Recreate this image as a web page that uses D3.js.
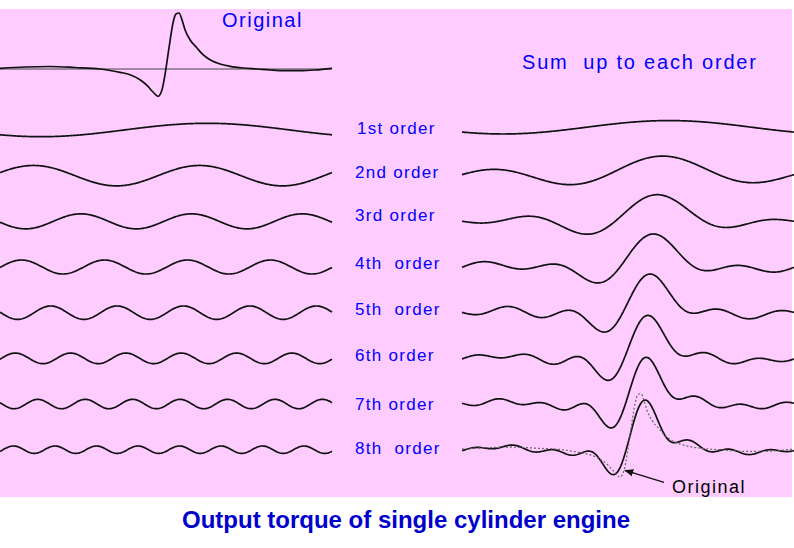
<!DOCTYPE html>
<html>
<head>
<meta charset="utf-8">
<script src="https://cdn.jsdelivr.net/npm/d3@7"></script>
<style>
  body { margin: 0; background: #fff; }
  text { font-family: Arial, "Liberation Sans", sans-serif; white-space: pre; }
</style>
</head>
<body>
<script>
// harmonic orders, amplitude (torque units) and angle of first peak (deg of cycle)
var orders = [1, 2, 3, 4, 5, 6, 7, 8];
var orderlabels = ["1st order", "2nd order", "3rd order", "4th  order", "5th  order", "6th order", "7th order", "8th  order"];
var amplitudes = [6.7, 10.2, 7.5, 7.0, 6.7, 5.3, 4.7, 3.7];
var peakangles = [224.5, 36.3, 87.7, 23.3, 55.0, 16.6, 41.0, 14.6];

// original torque curve
var origangle = [0, 27.1, 54.2, 81.3, 108.4, 119.3, 130.1, 141.0, 151.8, 159.4, 165.9, 171.3, 175.7, 178.9,
  181.1, 184.3, 187.6, 190.8, 194.1, 197.3, 200.6, 206.0, 213.6, 220.1, 227.7, 238.6, 249.4, 263.5,
  278.7, 292.8, 309.0, 325.3, 341.6, 360];
var origtorque = [0.7, 2, 2.5, 1.5, 0, -1.5, -3.3, -5.7, -10.7, -16.3, -23, -27.3, -20.7, -5.7,
  7.7, 27.7, 46, 55, 56, 49.3, 39.3, 29.3, 21, 14.3, 9.3, 5, 2.7, 1, 0, -1, -1.7, -1.7, -1, 0.7];

var width = 794, height = 548;
var svg = d3.select("body").append("svg").attr("width", width).attr("height", height);

svg.append("rect").attr("x", 0).attr("y", 9).attr("width", 792).attr("height", 488).attr("fill", "#ffccff");

var xleft = d3.scaleLinear().domain([0, 360]).range([0, 332]);
var xright = d3.scaleLinear().domain([0, 360]).range([462, 794]);
var yunit = d3.scaleLinear().domain([0, 1]).range([0, -1]);
var rows = d3.scalePoint().domain(orders).range([130, 449.7]);
var labelnudge = [4, 2.3, -0.4, 1.9, 2.1, 2.4, 5.7, 4];
var origbase = 69;

var angles = d3.range(0, 360.5, 1);

// mean (0th order) of the original, the sums start from it
var area = 0;
for (var j = 1; j < origangle.length; j++)
{
  area += (origtorque[j] + origtorque[j - 1]) / 2 * (origangle[j] - origangle[j - 1]);
}
var meantorque = area / 360;

function harmonic(i, a)
{
  return amplitudes[i] * Math.cos(orders[i] * (a - peakangles[i]) * Math.PI / 180);
}

function partialsum(i, a)
{
  var s = meantorque;
  for (var k = 0; k <= i; k++) { s += harmonic(k, a); }
  return s;
}

function makeline(xscale, base)
{
  return d3.line()
    .x(function(d) { return xscale(d[0]); })
    .y(function(d) { return base + yunit(d[1]); });
}

// top: original curve with zero line
svg.append("line")
   .attr("x1", xleft(0)).attr("x2", xleft(360))
   .attr("y1", origbase).attr("y2", origbase)
   .attr("stroke", "#444").attr("stroke-width", 1);

var origpts = origangle.map(function(a, i) { return [a, origtorque[i]]; });
svg.append("path")
   .attr("d", makeline(xleft, origbase).curve(d3.curveMonotoneX)(origpts))
   .attr("fill", "none").attr("stroke", "#111").attr("stroke-width", 1.7);

svg.append("text").attr("x", 222).attr("y", 27).attr("fill", "#0000ff")
   .attr("font-size", 20).attr("letter-spacing", 1.5).text("Original");
svg.append("text").attr("x", 522).attr("y", 69).attr("fill", "#0000ff")
   .attr("font-size", 20).attr("letter-spacing", 1.8).text("Sum  up to each order");

// each order: harmonic on the left, sum up to that order on the right
orders.forEach(function(n, i)
{
  var base = rows(n);
  svg.append("path")
     .attr("d", makeline(xleft, base)(angles.map(function(a) { return [a, harmonic(i, a)]; })))
     .attr("fill", "none").attr("stroke", "#111").attr("stroke-width", 1.7);
  svg.append("path")
     .attr("d", makeline(xright, base)(angles.map(function(a) { return [a, partialsum(i, a)]; })))
     .attr("fill", "none").attr("stroke", "#111").attr("stroke-width", 1.7);
  svg.append("text").attr("x", i == 0 ? 357 : 355).attr("y", base + labelnudge[i]).attr("fill", "#0000ff")
     .attr("font-size", 17).attr("letter-spacing", 1.3).text(orderlabels[i]);
});

// dotted original over the last sum
var lastbase = rows(8);
svg.append("path")
   .attr("d", makeline(xright, lastbase).curve(d3.curveMonotoneX)(origpts))
   .attr("fill", "none").attr("stroke", "#666").attr("stroke-width", 1.2).attr("stroke-dasharray", "2,2");

svg.append("defs").append("marker")
   .attr("id", "arrow").attr("viewBox", "0 0 10 10").attr("refX", 9).attr("refY", 5)
   .attr("markerWidth", 7).attr("markerHeight", 7).attr("orient", "auto")
   .append("path").attr("d", "M0,1L10,5L0,9z").attr("fill", "#111");

var tipx = xright(origangle[12]) + 1, tipy = lastbase + yunit(origtorque[12]);
svg.append("line")
   .attr("x1", tipx + 39).attr("y1", tipy + 12).attr("x2", tipx).attr("y2", tipy)
   .attr("stroke", "#111").attr("stroke-width", 1.3).attr("marker-end", "url(#arrow)");
svg.append("text").attr("x", 672).attr("y", 493).attr("fill", "#000")
   .attr("font-size", 18).attr("letter-spacing", 1.5).text("Original");

svg.append("text").attr("x", 406).attr("y", 528).attr("text-anchor", "middle")
   .attr("fill", "#0000cc").attr("font-size", 24).attr("font-weight", "bold")
   .text("Output torque of single cylinder engine");
</script>
</body>
</html>
